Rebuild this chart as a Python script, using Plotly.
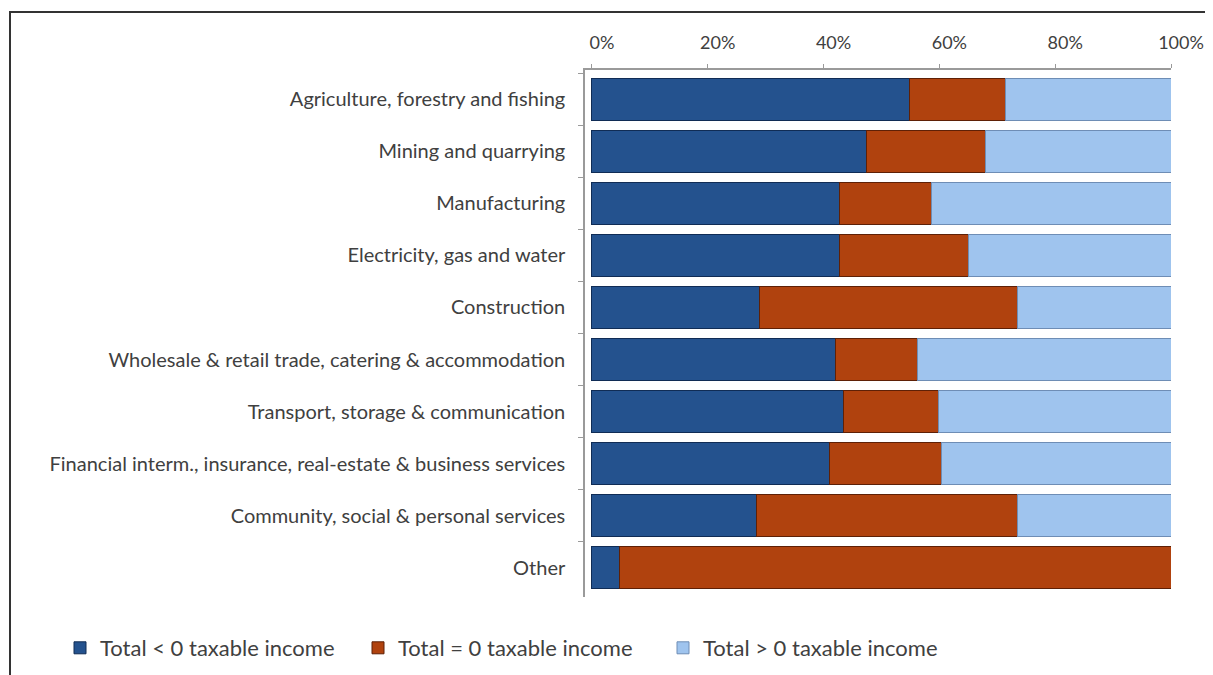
import plotly.graph_objects as go

categories = [
    "Agriculture, forestry and fishing",
    "Mining and quarrying",
    "Manufacturing",
    "Electricity, gas and water",
    "Construction",
    "Wholesale & retail trade, catering & accommodation",
    "Transport, storage & communication",
    "Financial interm., insurance, real-estate & business services",
    "Community, social & personal services",
    "Other",
]
neg_share = [0.548, 0.474, 0.428, 0.427, 0.290, 0.420, 0.435, 0.410, 0.285, 0.048]
zero_share = [0.166, 0.206, 0.159, 0.223, 0.445, 0.142, 0.164, 0.193, 0.450, 0.952]
pos_share = [0.286, 0.320, 0.413, 0.350, 0.265, 0.438, 0.401, 0.397, 0.265, 0.000]

series_names = ["Total < 0 taxable income", "Total = 0 taxable income", "Total > 0 taxable income"]
series_vals = [neg_share, zero_share, pos_share]
colors = ["#24528E", "#B0420E", "#9FC4EE"]
edge = ["#102C55", "#5E2006", "#6E8DB5"]
legend_ids = ["legend", "legend2", "legend3"]
legend_x = [52, 350, 655]

font_fam = "Lato, 'Open Sans', sans-serif"

fig = go.Figure()
for name, vals, c, e, lg in zip(series_names, series_vals, colors, edge, legend_ids):
    fig.add_trace(go.Bar(
        y=categories, x=vals, name=name, orientation="h", legend=lg,
        marker=dict(color=c, line=dict(color=e, width=1)),
    ))

W, H = 1213, 675
L, R, T, B = 577, 50, 62, 86
PW, PH = W - L - R, H - T - B

legend_common = dict(
    orientation="h", xref="container", yref="container",
    y=1 - 640 / H, xanchor="left", yanchor="middle",
    font=dict(size=22, color="#404040"), itemwidth=30,
    bgcolor="rgba(0,0,0,0)",
)
layout_legends = {}
for lg, lx in zip(legend_ids, legend_x):
    d = dict(legend_common)
    d["x"] = lx / W
    layout_legends[lg] = d

fig.update_layout(
    barmode="stack",
    bargap=0.19,
    width=W, height=H,
    margin=dict(l=L, r=R, t=T, b=B, autoexpand=False),
    paper_bgcolor="white", plot_bgcolor="white",
    font=dict(family=font_fam, size=20, color="#404040"),
    showlegend=True,
    xaxis=dict(
        side="top", range=[-0.012, 1.0], tickvals=[0, 0.2, 0.4, 0.6, 0.8, 1.0],
        tickformat=".0%", showgrid=False, zeroline=False,
        showline=True, linecolor="#9A9A9A", linewidth=1.5,
        ticks="outside", ticklen=4, tickcolor="#9A9A9A",
        ticklabelstandoff=8, ticklabelshift=10,
        tickfont=dict(size=18, color="#404040"),
    ),
    yaxis=dict(
        type="category", categoryorder="array", categoryarray=categories,
        range=[9.56, -0.56], showgrid=False, zeroline=False,
        showline=True, linecolor="#9A9A9A", linewidth=1.5,
        ticks="outside", ticklen=5, tickcolor="#9A9A9A", tickson="boundaries",
        ticklabelstandoff=14,
        tickfont=dict(size=20, color="#404040"),
    ),
    shapes=[dict(
        type="rect", xref="paper", yref="paper",
        x0=(2 - L) / PW, x1=(1240 - L) / PW,
        y0=(H - B - 720) / PH, y1=(H - B - 4) / PH,
        line=dict(color="#333333", width=2), fillcolor="rgba(0,0,0,0)", layer="below",
    )],
    **layout_legends,
)

fig.write_html("out.html")
